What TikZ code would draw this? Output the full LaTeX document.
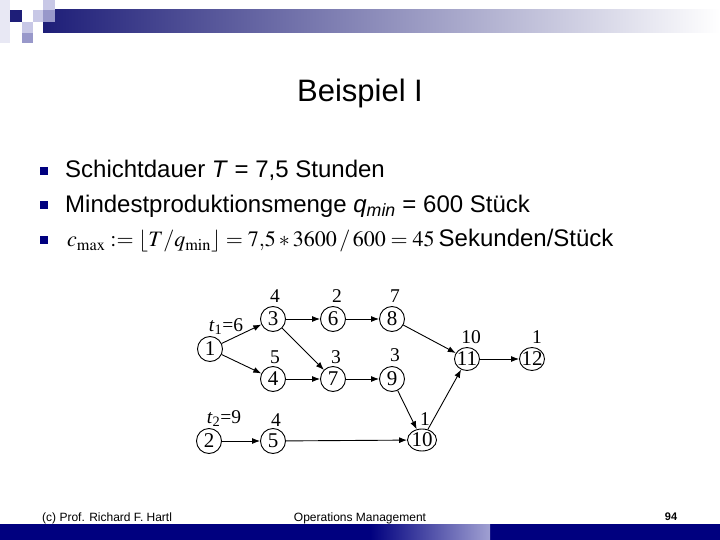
\documentclass[tikz,border=0pt]{standalone}
\usepackage{mathptmx}
\usepackage[no-math]{fontspec}
\setmainfont{Liberation Sans}
\newfontfamily\tms{Liberation Serif}
\usetikzlibrary{arrows.meta,shapes.geometric}
\definecolor{navy}{HTML}{00007F}
\definecolor{hdark}{HTML}{1E1E78}
\definecolor{hmid}{HTML}{A4A4BA}
\definecolor{sqlight}{HTML}{C8C8E6}
\definecolor{sqmid}{HTML}{9898CA}
\definecolor{sqfaint}{HTML}{E8E8F4}
\definecolor{fpatch}{HTML}{A0A0D2}
\tikzset{
  ev/.style={circle,draw,line width=0.9pt,minimum size=25pt,inner sep=0pt,font=\tms\fontsize{21}{21}\selectfont},
  evw/.style={ellipse,draw,line width=0.9pt,minimum width=25pt,minimum height=23pt,inner xsep=-2pt,inner ysep=0pt,font=\tms\fontsize{21}{21}\selectfont},
  lab/.style={inner sep=0pt,font=\tms\fontsize{19.5}{19.5}\selectfont},
  arr/.style={line width=0.9pt,-{Latex[length=8pt,width=6pt]}},
  bul/.style={fill=navy,minimum size=8pt,inner sep=0pt},
  body/.style={anchor=base west,inner sep=0pt,font=\fontsize{24}{28}\selectfont},
  foot/.style={anchor=base,inner sep=0pt,font=\fontsize{12}{14}\selectfont}
}
\begin{document}
\begin{tikzpicture}[x=1pt,y=-1pt]
\useasboundingbox (0,0) rectangle (720,540);
% header
\fill[sqfaint] (0,0) rectangle (10,43);
\shade[left color=hdark,middle color=hmid,right color=white] (43,10) rectangle (720,33);
\fill[hdark] (10,10) rectangle (22,22);
\fill[sqlight] (22,22) rectangle (33,33);
\fill[sqmid] (22,33) rectangle (33,43);
\fill[sqlight] (33,10) rectangle (43,22);
\fill[sqlight] (43,0) rectangle (55,10);
\fill[sqmid] (43,10) rectangle (55,22);
% footer
\fill[navy] (0,524) rectangle (720,540);
\shade[left color=navy,right color=fpatch] (370,524) rectangle (490,540);
% title
\node[anchor=base,inner sep=0pt,font=\fontsize{31}{36}\selectfont] (title) at (360,102) {Beispiel I};
% bullets
\node[bul] (b1) at (44,171) {};
\node[bul] (b2) at (44,205.5) {};
\node[bul] (b3) at (44,240) {};
\node[body] (t1) at (65,178) {Schichtdauer \textit{T} = 7,5 Stunden};
\node[body] (t2) at (65,212) {Mindestproduktionsmenge \textit{q}\textsubscript{\textit{min}} = 600 Stück};
\node[body] (t3) at (67,247) {{\fontsize{22}{26}\selectfont$c_{\max}:=\lfloor T/q_{\min}\rfloor=7{,}5*3600\,/\,600=45$}\hspace{4pt}Sekunden/Stück};
% network
\node[ev] (n1) at (210,349) {1};
\node[ev] (n2) at (209,441) {2};
\node[ev] (n3) at (273,319) {3};
\node[ev] (n4) at (273,379) {4};
\node[ev] (n5) at (273,441) {5};
\node[ev] (n6) at (333,319) {6};
\node[ev] (n7) at (333,379) {7};
\node[ev] (n8) at (392,319) {8};
\node[ev] (n9) at (392,379) {9};
\node[evw,minimum width=29pt,minimum height=22pt] (n10) at (422,440) {10};
\node[evw] (n11) at (467,359) {11};
\node[evw] (n12) at (532,359) {12};
% labels
\node[lab] (l3) at (275,296) {4};
\node[lab] (l6) at (337,296) {2};
\node[lab] (l8) at (395,296) {7};
\node[lab] (l4) at (275,357) {5};
\node[lab] (l7) at (336,357) {3};
\node[lab] (l9) at (395,355) {3};
\node[lab] (l11) at (471,337) {10};
\node[lab] (l12) at (537,337) {1};
\node[lab] (l10) at (425,419) {1};
\node[lab] (l5) at (276,420) {4};
\node[lab] (lt1) at (226,327) {\textit{t}\textsubscript{1}=6};
\node[lab] (lt2) at (224,419) {\textit{t}\textsubscript{2}=9};
% edges
\draw[arr] (n1) -- (n3);
\draw[arr] (n1) -- (n4);
\draw[arr] (n3) -- (n6);
\draw[arr] (n3) -- (n7);
\draw[arr] (n4) -- (n7);
\draw[arr] (n6) -- (n8);
\draw[arr] (n7) -- (n9);
\draw[arr] (n8) -- (n11);
\draw[arr] (n9) -- (n10);
\draw[arr] (n2) -- (n5);
\draw[arr] (n5) -- (n10);
\draw[arr] (n10) -- (n11);
\draw[arr] (n11) -- (n12);
% footer text
\node[foot,anchor=base west] (f1) at (42,521) {(c) Prof. Richard F. Hartl};
\node[foot] (f2) at (360,521) {Operations Management};
\node[foot,font=\bfseries\fontsize{11}{13}\selectfont] (f3) at (671,520) {94};
\end{tikzpicture}
\end{document}
